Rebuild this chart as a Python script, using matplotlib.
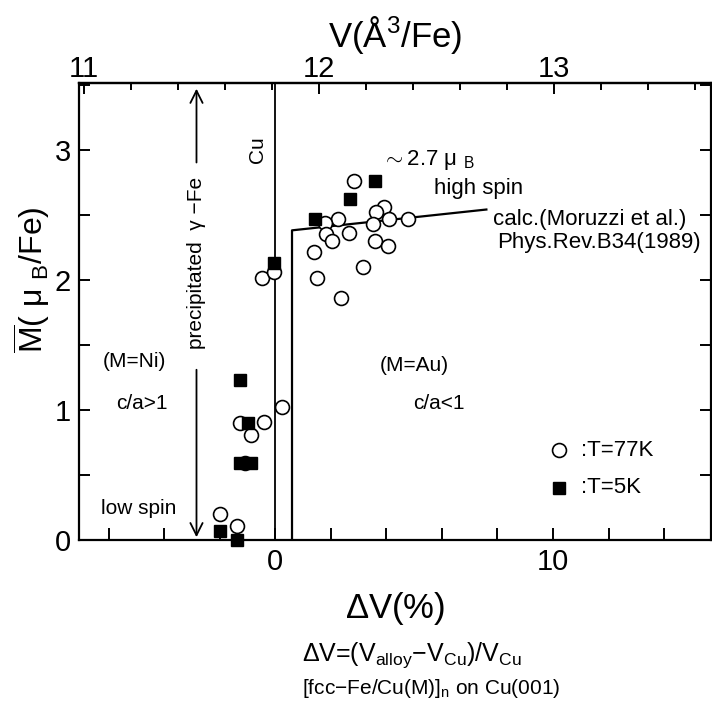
import numpy as np
import matplotlib
matplotlib.use("Agg")
import matplotlib.pyplot as plt
from matplotlib.ticker import MultipleLocator, FixedLocator

plt.rcParams['font.family'] = ['Liberation Sans', 'DejaVu Sans']
plt.rcParams['mathtext.fontset'] = 'custom'
plt.rcParams['mathtext.rm'] = 'Liberation Sans'
plt.rcParams['mathtext.it'] = 'Liberation Sans'
plt.rcParams['mathtext.bf'] = 'Liberation Sans:bold'

# T=77K (open circles)
dv_77 = [2.84, 3.90, 3.62, 4.08, 4.76, 3.50, 2.27, 1.79, 1.82, 2.04, 2.66, 3.59, 4.06,
         1.40, 3.14, 1.50, 2.36, -0.48, -0.06, 0.23, -1.27, -0.42, -0.88, -1.08,
         -1.98, -1.39]
m_77 = [2.76, 2.56, 2.52, 2.47, 2.47, 2.43, 2.47, 2.44, 2.35, 2.30, 2.36, 2.30, 2.26,
        2.21, 2.10, 2.01, 1.86, 2.01, 2.06, 1.02, 0.90, 0.91, 0.81, 0.59,
        0.20, 0.11]

# T=5K (filled squares)
dv_5 = [3.60, 2.69, 1.41, -0.06, -1.27, -0.97, -1.29, -0.86, -1.98, -1.39]
m_5 = [2.76, 2.62, 2.47, 2.13, 1.23, 0.90, 0.59, 0.59, 0.07, 0.0]

# calculation (Moruzzi et al.)
dv_calc = [0.6, 0.6, 7.6]
m_calc = [0.0, 2.38, 2.54]

top_ticks = [11, 12, 13]
V_CU = 11.816  # A^3 per atom, dV = 0

def dv_to_v(dv):
    return V_CU * (1 + np.asarray(dv) / 100.0)

def v_to_dv(v):
    return (np.asarray(v) / V_CU - 1) * 100.0

fig = plt.figure(figsize=(7.12, 7.06), dpi=100)
ax = fig.add_axes([0.1114, 0.2351, 0.8876, 0.6469])

ax.plot(dv_calc, m_calc, color='black', lw=1.6)
ax.axvline(0, color='black', lw=1.3)

ax.plot(dv_77, m_77, 'o', mfc='white', mec='black', mew=1.2, ms=10, clip_on=False, zorder=3)
ax.plot(dv_5, m_5, 's', color='black', ms=8.5, clip_on=False, zorder=4)

ax.set_xlim(-7.06, 15.7)
ax.set_ylim(0, 3.51)

# bottom axis
ax.set_xticks(np.arange(-6, 16, 2))
ax.set_xticklabels(['0' if t == 0 else ('10' if t == 10 else '') for t in range(-6, 16, 2)])
ax.yaxis.set_major_locator(MultipleLocator(1))
ax.yaxis.set_minor_locator(MultipleLocator(0.5))
ax.tick_params(axis='x', which='major', direction='in', length=8.5, width=1.4,
               labelsize=21, pad=6, top=False)
ax.tick_params(axis='y', which='both', direction='in', length=8, width=1.4,
               labelsize=21, right=True, pad=6)
for s in ax.spines.values():
    s.set_linewidth(1.6)

# top axis in V(A^3/Fe)
top = ax.secondary_xaxis('top', functions=(dv_to_v, v_to_dv))
top.xaxis.set_major_locator(FixedLocator(top_ticks))
top.xaxis.set_minor_locator(MultipleLocator(0.2))
top.tick_params(which='major', direction='in', length=8, width=1.4, labelsize=21, pad=0)
top.tick_params(which='minor', direction='in', length=5, width=1.4)
top.spines['top'].set_linewidth(1.6)
top.set_xlabel('V(Å$^{3}$/Fe)', fontsize=25, labelpad=6)

ax.set_xlabel(r'$\Delta$V(%)', fontsize=25, labelpad=10)
ax.set_ylabel(r'$\overline{\rm M}$( $\mu$ $_{\rm B}$/Fe)', fontsize=23)
ax.yaxis.set_label_coords(-0.044, 0.57)

fig.text(0.424, 0.072, r'$\Delta$V=(V$_{\rm alloy}$$-$V$_{\rm Cu}$)/V$_{\rm Cu}$',
         fontsize=18, ha='left', va='center')
fig.text(0.424, 0.025, r'[fcc$-$Fe/Cu(M)]$_{\rm n}$ on Cu(001)',
         fontsize=15, ha='left', va='center')

# precipitated gamma-Fe arrows
ax.annotate('', xy=(-2.84, 3.49), xytext=(-2.84, 2.88),
            arrowprops=dict(arrowstyle='->', color='black', lw=1.3, mutation_scale=22))
ax.annotate('', xy=(-2.84, 0.0), xytext=(-2.84, 1.33),
            arrowprops=dict(arrowstyle='->', color='black', lw=1.3, mutation_scale=22))
ax.text(-2.84, 2.13, 'precipitated  γ −Fe', rotation=90, fontsize=15,
        ha='center', va='center')
ax.text(-0.65, 3.0, 'Cu', rotation=90, fontsize=15, ha='center', va='center')

ax.text(3.85, 2.92, r'$\sim$2.7 $\mu$ $_{\rm B}$', fontsize=16, ha='left', va='center')
ax.text(5.72, 2.70, 'high spin', fontsize=16, ha='left', va='center')
ax.text(7.84, 2.46, 'calc.(Moruzzi et al.)', fontsize=16, ha='left', va='center')
ax.text(8.0, 2.29, 'Phys.Rev.B34(1989)', fontsize=16, ha='left', va='center')

ax.text(-5.07, 1.37, '(M=Ni)', fontsize=15, ha='center', va='center')
ax.text(-4.8, 1.05, 'c/a>1', fontsize=15, ha='center', va='center')
ax.text(-4.93, 0.24, 'low spin', fontsize=15, ha='center', va='center')
ax.text(5.0, 1.34, '(M=Au)', fontsize=15, ha='center', va='center')
ax.text(5.9, 1.05, 'c/a<1', fontsize=15, ha='center', va='center')

# legend
ax.plot([10.2], [0.69], 'o', mfc='white', mec='black', mew=1.2, ms=10)
ax.plot([10.2], [0.40], 's', color='black', ms=8.5)
ax.text(11.0, 0.69, ':T=77K', fontsize=16, ha='left', va='center')
ax.text(11.0, 0.40, ':T=5K', fontsize=16, ha='left', va='center')

fig.savefig('out.png', dpi=100)
